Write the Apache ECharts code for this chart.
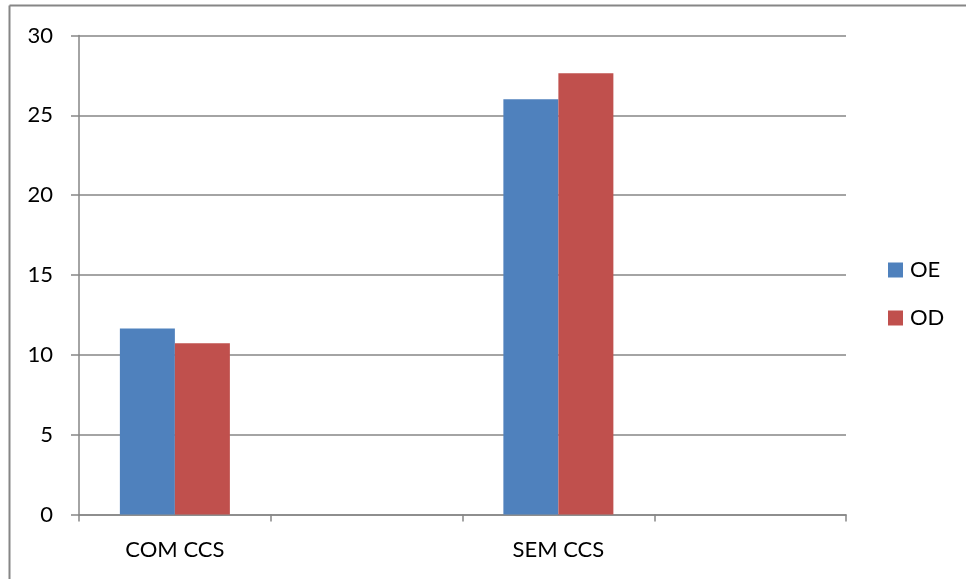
<!DOCTYPE html>
<html>
<head>
<meta charset="utf-8">
<script src="https://cdn.jsdelivr.net/npm/echarts@6/dist/echarts.min.js"></script>
<style>
  html, body { margin: 0; padding: 0; background: #fff; }
  #chart { width: 966px; height: 579px; }
</style>
</head>
<body>
<div id="chart"></div>
<script>
// Category slots (two labelled groups, two empty spacer slots)
const categories = ['COM CCS', '', 'SEM CCS', ''];
const seriesNames = ['OE', 'OD'];
const oeValues = [11.65, null, 26.0, null];
const odValues = [10.73, null, 27.63, null];
const yTicks = { min: 0, max: 30, interval: 5 };

const axisGrey = '#868686';
const font = 'Lato, "Open Sans", sans-serif';
const fontSize = 22;

const chart = echarts.init(document.getElementById('chart'));
chart.setOption({
  backgroundColor: '#ffffff',
  animation: false,
  textStyle: { fontFamily: font },
  graphic: [
    // chart area frame: top and left edges
    { type: 'line', shape: { x1: 9.5, y1: 5.5, x2: 966, y2: 5.5 }, style: { stroke: axisGrey, lineWidth: 2 } },
    { type: 'line', shape: { x1: 9.5, y1: 5.5, x2: 9.5, y2: 579 }, style: { stroke: axisGrey, lineWidth: 2 } }
  ],
  grid: { left: 79, right: 120, top: 35.5, bottom: 64.5, containLabel: false },
  legend: {
    orient: 'vertical',
    left: 888,
    top: 259,
    padding: 0,
    itemWidth: 15,
    itemHeight: 15,
    itemGap: 26,
    icon: 'rect',
    textStyle: { fontSize: fontSize, color: '#000', fontFamily: font, padding: [0, 0, 0, 2] },
    data: seriesNames
  },
  xAxis: {
    type: 'category',
    data: categories,
    boundaryGap: true,
    axisLine: { lineStyle: { color: axisGrey, width: 1.5 } },
    axisTick: { show: true, length: 7, alignWithLabel: false, lineStyle: { color: axisGrey, width: 1.5 } },
    axisLabel: { color: '#000', fontSize: fontSize, margin: 24, fontFamily: font, interval: 0 },
    splitLine: { show: false }
  },
  yAxis: {
    type: 'value',
    min: yTicks.min,
    max: yTicks.max,
    interval: yTicks.interval,
    axisLine: { show: true, lineStyle: { color: axisGrey, width: 1.5 } },
    axisTick: { show: true, length: 8, lineStyle: { color: axisGrey, width: 1.5 } },
    axisLabel: { color: '#000', fontSize: fontSize, margin: 26, fontFamily: font },
    splitLine: { show: true, lineStyle: { color: axisGrey, width: 1.5 } }
  },
  series: [
    {
      name: seriesNames[0], type: 'bar', data: oeValues,
      barWidth: 55, barGap: '0%',
      itemStyle: { color: '#4F81BD' }
    },
    {
      name: seriesNames[1], type: 'bar', data: odValues,
      barWidth: 55, barGap: '0%',
      itemStyle: { color: '#C0504D' }
    }
  ]
});
</script>
</body>
</html>
